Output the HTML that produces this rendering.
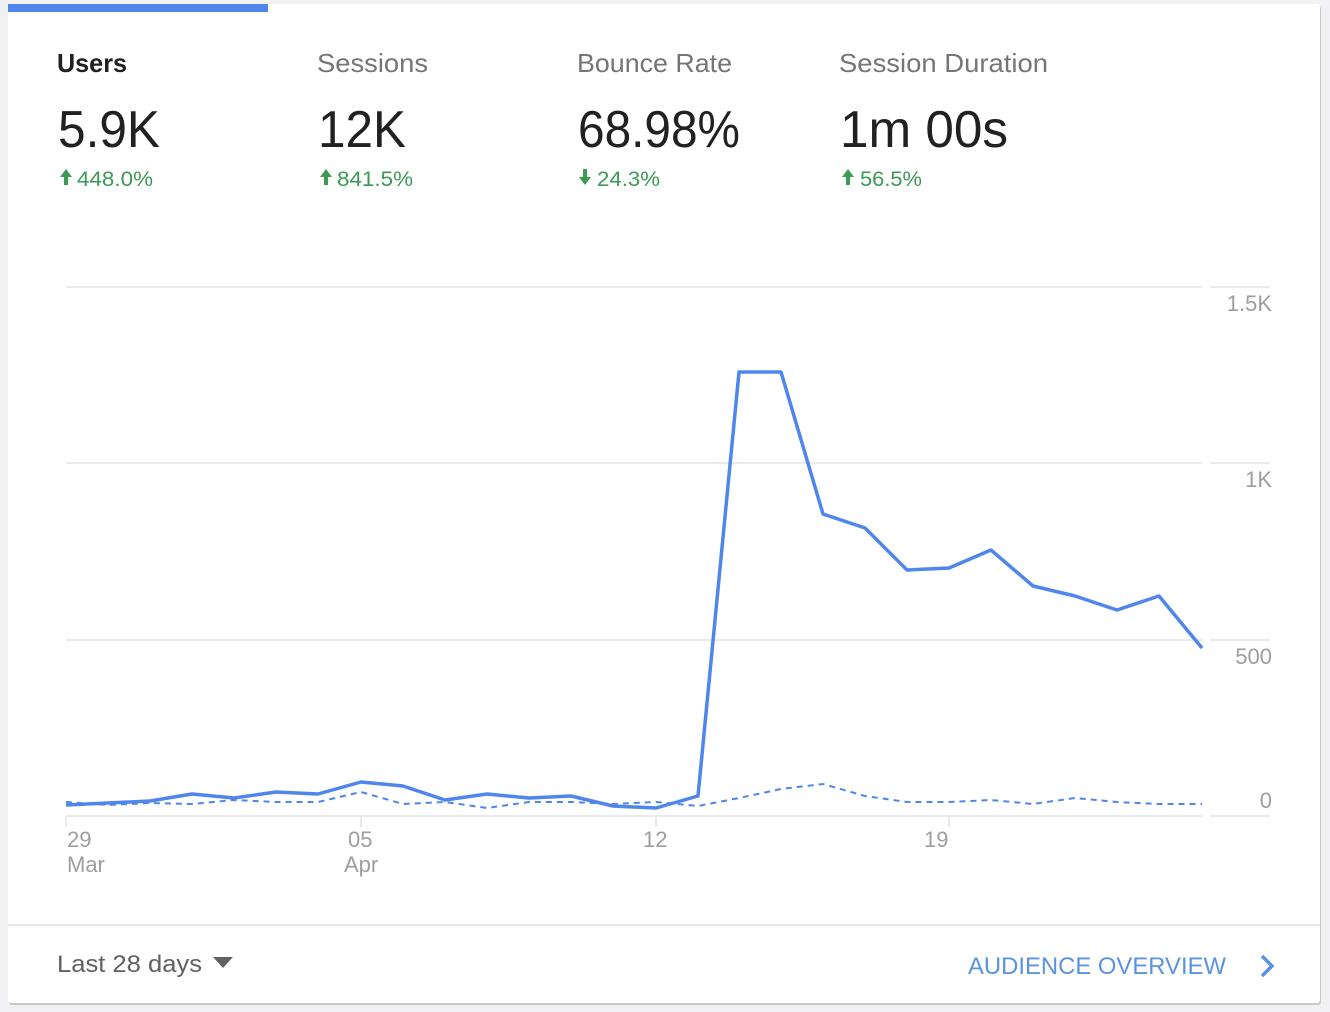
<!DOCTYPE html>
<html><head><meta charset="utf-8"><style>
html,body{margin:0;padding:0;background:#f1f1f3;}
svg{display:block;font-family:"Liberation Sans",sans-serif;}
</style></head><body>
<svg width="1330" height="1012" viewBox="0 0 1330 1012" xmlns="http://www.w3.org/2000/svg">
<rect x="0" y="0" width="1330" height="1012" fill="#f1f1f3"/>
<rect x="9" y="6" width="1312" height="999" rx="3" fill="#c8c8c8"/>
<rect x="8" y="4" width="1312" height="999" rx="3" fill="#fff"/>
<rect x="8" y="4" width="260" height="8" fill="#4f86ec"/>

<g font-size="26">
<text x="57" y="72" fill="#212121" font-weight="bold" textLength="70" lengthAdjust="spacingAndGlyphs">Users</text>
<text x="317" y="72" fill="#757575" textLength="111" lengthAdjust="spacingAndGlyphs">Sessions</text>
<text x="577" y="72" fill="#757575" textLength="155" lengthAdjust="spacingAndGlyphs">Bounce Rate</text>
<text x="839" y="72" fill="#757575" textLength="209" lengthAdjust="spacingAndGlyphs">Session Duration</text>
</g>
<g font-size="52" fill="#212121">
<text x="58" y="147" textLength="102" lengthAdjust="spacingAndGlyphs">5.9K</text>
<text x="318" y="147" textLength="88" lengthAdjust="spacingAndGlyphs">12K</text>
<text x="578" y="147" textLength="162" lengthAdjust="spacingAndGlyphs">68.98%</text>
<text x="840" y="147" textLength="168" lengthAdjust="spacingAndGlyphs">1m 00s</text>
</g>
<g font-size="21" fill="#3c9a55">
<text x="77" y="186" textLength="76" lengthAdjust="spacingAndGlyphs">448.0%</text>
<text x="337" y="186" textLength="76" lengthAdjust="spacingAndGlyphs">841.5%</text>
<text x="597" y="186" textLength="63" lengthAdjust="spacingAndGlyphs">24.3%</text>
<text x="860" y="186" textLength="62" lengthAdjust="spacingAndGlyphs">56.5%</text>
</g>
<g fill="#3c9a55">
<path d="M66 169 L72 177 L68 177 L68 185 L64 185 L64 177 L60 177 Z"/>
<path d="M326 169 L332 177 L328 177 L328 185 L324 185 L324 177 L320 177 Z"/>
<path d="M848 169 L854 177 L850 177 L850 185 L846 185 L846 177 L842 177 Z"/>
<path d="M585 185 L591 177 L587 177 L587 169 L583 169 L583 177 L579 177 Z"/>
</g>

<g stroke="#e3e3e3" stroke-width="1.5">
<line x1="66" y1="287" x2="1202" y2="287"/><line x1="1210" y1="287" x2="1270" y2="287"/>
<line x1="66" y1="463" x2="1202" y2="463"/><line x1="1210" y1="463" x2="1270" y2="463"/>
<line x1="66" y1="640" x2="1202" y2="640"/><line x1="1210" y1="640" x2="1270" y2="640"/>
<line x1="66" y1="816" x2="1202" y2="816"/><line x1="1210" y1="816" x2="1270" y2="816"/>
<line x1="66" y1="816" x2="66" y2="827"/><line x1="361" y1="816" x2="361" y2="827"/>
<line x1="656" y1="816" x2="656" y2="827"/><line x1="949" y1="816" x2="949" y2="827"/>
</g>
<g font-size="22" fill="#9e9e9e" text-anchor="end">
<text x="1272" y="311">1.5K</text>
<text x="1272" y="487">1K</text>
<text x="1272" y="664">500</text>
<text x="1272" y="808">0</text>
</g>
<g font-size="22" fill="#9e9e9e">
<text x="67" y="847">29</text><text x="67" y="872">Mar</text>
<text x="348" y="847">05</text><text x="344" y="872">Apr</text>
<text x="643" y="847">12</text>
<text x="924" y="847">19</text>
</g>

<polyline fill="none" stroke="#4f86ec" stroke-width="2" stroke-dasharray="6,5" points="66,802 108,805 150,803 192,804 234,800 276,802 318,802 361,792 403,804 445,802 487,808 529,802 571,802 613,804 656,802 698,806 739,798 781,789 823,784 865,796 907,802 949,802 991,800 1033,804 1075,798 1117,802 1159,804 1202,804"/>
<polyline fill="none" stroke="#4f86ec" stroke-width="3.5" stroke-linejoin="round" points="66,805 108,803 150,801 192,794 234,798 276,792 318,794 361,782 403,786 445,800 487,794 529,798 571,796 613,806 656,808 698,796 739,372 781,372 823,514 865,528 907,570 949,568 991,550 1033,586 1075,596 1117,610 1159,596 1202,648"/>

<line x1="8" y1="925" x2="1320" y2="925" stroke="#e0e0e0" stroke-width="1.5"/>
<text x="57" y="972" font-size="24" fill="#616161" textLength="145" lengthAdjust="spacingAndGlyphs">Last 28 days</text>
<path d="M213 957 L233 957 L223 968 Z" fill="#616161"/>
<text x="968" y="974" font-size="24" fill="#5a93e0" textLength="258" lengthAdjust="spacingAndGlyphs">AUDIENCE OVERVIEW</text>
<path d="M1262 956 L1272 966 L1262 976" fill="none" stroke="#5a93e0" stroke-width="3.5"/>
</svg>
</body></html>
